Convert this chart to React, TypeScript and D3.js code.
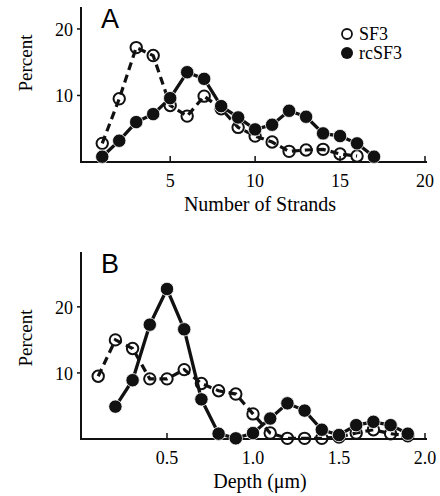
import { useEffect, useRef } from 'react';
import * as d3 from 'd3';

// Panel A: number of strands
const strands = [1, 2, 3, 4, 5, 6, 7, 8, 9, 10, 11, 12, 13, 14, 15, 16, 17];
const strandsSF3 = [2.8, 9.5, 17.2, 16.0, 8.5, 6.9, 9.9, 8.0, 5.2, 3.9, 3.0, 1.6, 1.8, 1.9, 1.2, 0.9, null];
const strandsRcSF3 = [0.8, 3.2, 6.0, 7.2, 9.6, 13.5, 12.5, 8.4, 6.7, 4.9, 5.6, 7.7, 6.8, 4.3, 3.9, 2.8, 0.8];

// Panel B: depth (um)
const depth = [0.1, 0.2, 0.3, 0.4, 0.5, 0.6, 0.7, 0.8, 0.9, 1.0, 1.1, 1.2, 1.3, 1.4, 1.5, 1.6, 1.7, 1.8, 1.9];
const depthSF3 = [9.5, 15.0, 13.7, 9.1, 9.1, 10.5, 8.4, 7.3, 6.8, 3.8, 0.9, 0.1, 0.1, 0.1, 0.3, 0.9, 1.4, 0.8, 0.5];
const depthRcSF3 = [null, 4.9, 8.9, 17.3, 22.7, 16.6, 6.0, 0.8, 0.1, 0.9, 3.1, 5.4, 4.3, 1.4, 0.6, 2.1, 2.6, 2.1, 0.8];

const ticksA = [5, 10, 15, 20];
const ticksB = [0.5, 1.0, 1.5, 2.0];
const yTicks = [10, 20];

const serif = '"Liberation Serif", "Times New Roman", serif';
const sans = '"Liberation Sans", Arial, sans-serif';

type Panel = {
  letter: string;
  xs: number[];
  sf3: (number | null)[];
  rc: (number | null)[];
  xDomain: [number, number];
  yMax: number;
  xTicks: number[];
  fmt: (d: number) => string;
  xLabel: string;
  top: number;
  bottom: number;
  labelY: number;
  legend: boolean;
};

const App = () => {
  const svgRef = useRef<SVGSVGElement>(null);

  useEffect(() => {
    const svg = d3.select(svgRef.current);
    svg.selectAll('*').remove();

    const panels: Panel[] = [
      {
        letter: 'A', xs: strands, sf3: strandsSF3, rc: strandsRcSF3,
        xDomain: [-0.25, 20], yMax: 23.3, xTicks: ticksA, fmt: (d) => String(d),
        xLabel: 'Number of Strands', top: 7, bottom: 162, labelY: 63, legend: true,
      },
      {
        letter: 'B', xs: depth, sf3: depthSF3, rc: depthRcSF3,
        xDomain: [0, 2.0], yMax: 28.3, xTicks: ticksB, fmt: d3.format('.1f'),
        xLabel: 'Depth (\u03bcm)', top: 252, bottom: 439, labelY: 338, legend: false,
      },
    ];

    panels.forEach((p) => {
      const { top, bottom } = p;
      const x = d3.scaleLinear().domain(p.xDomain).range([81, 425]);
      const y = d3.scaleLinear().domain([0, p.yMax]).range([bottom, top]);
      const g = svg.append('g');

      // axes
      g.append('path')
        .attr('d', `M81,${top}V${bottom}H427`)
        .attr('fill', 'none')
        .attr('stroke', '#111')
        .attr('stroke-width', 2);

      g.selectAll('.xt')
        .data(p.xTicks)
        .join('line')
        .attr('x1', (d) => x(d))
        .attr('x2', (d) => x(d))
        .attr('y1', bottom)
        .attr('y2', bottom - 6)
        .attr('stroke', '#111')
        .attr('stroke-width', 1.5);

      g.selectAll('.xl')
        .data(p.xTicks)
        .join('text')
        .attr('x', (d) => x(d))
        .attr('y', bottom + 25)
        .attr('text-anchor', 'middle')
        .style('font-family', serif)
        .style('font-size', '18px')
        .text((d) => p.fmt(d));

      g.selectAll('.yt')
        .data(yTicks)
        .join('line')
        .attr('x1', 77)
        .attr('x2', 81)
        .attr('y1', (d) => y(d))
        .attr('y2', (d) => y(d))
        .attr('stroke', '#111')
        .attr('stroke-width', 1.5);

      g.selectAll('.yl')
        .data(yTicks)
        .join('text')
        .attr('x', 73)
        .attr('y', (d) => y(d) + 7)
        .attr('text-anchor', 'end')
        .style('font-family', serif)
        .style('font-size', '18px')
        .text((d) => d);

      g.append('text')
        .attr('transform', `translate(32,${p.labelY}) rotate(-90)`)
        .attr('text-anchor', 'middle')
        .style('font-family', serif)
        .style('font-size', '19px')
        .text('Percent');

      g.append('text')
        .attr('x', 260)
        .attr('y', bottom + 49)
        .attr('text-anchor', 'middle')
        .style('font-family', serif)
        .style('font-size', '20px')
        .text(p.xLabel);

      g.append('text')
        .attr('x', 101)
        .attr('y', top + 21)
        .style('font-family', sans)
        .style('font-size', '27px')
        .text(p.letter);

      const line = d3
        .line<[number, number | null]>()
        .defined((d) => d[1] != null)
        .x((d) => x(d[0]))
        .y((d) => y(d[1] as number));

      const sfPts = p.xs.map((v, i) => [v, p.sf3[i]] as [number, number | null]);
      const rcPts = p.xs.map((v, i) => [v, p.rc[i]] as [number, number | null]);

      // SF3: dashed, open circles
      g.append('path')
        .datum(sfPts)
        .attr('d', line)
        .attr('fill', 'none')
        .attr('stroke', '#111')
        .attr('stroke-width', 3.2)
        .attr('stroke-dasharray', '8,5');

      g.selectAll('.sf')
        .data(sfPts.filter((d) => d[1] != null))
        .join('circle')
        .attr('cx', (d) => x(d[0]))
        .attr('cy', (d) => y(d[1] as number))
        .attr('r', 5.7)
        .attr('fill', 'none')
        .attr('stroke', '#111')
        .attr('stroke-width', 2);

      // rcSF3: solid, filled circles
      g.append('path')
        .datum(rcPts)
        .attr('d', line)
        .attr('fill', 'none')
        .attr('stroke', '#111')
        .attr('stroke-width', 3.3);

      g.selectAll('.rc')
        .data(rcPts.filter((d) => d[1] != null))
        .join('circle')
        .attr('cx', (d) => x(d[0]))
        .attr('cy', (d) => y(d[1] as number))
        .attr('r', 6.7)
        .attr('fill', '#111')
        .attr('stroke', '#fff')
        .attr('stroke-width', 0.8);

      if (p.legend) {
        const lg = g.append('g');
        lg.append('circle')
          .attr('cx', 347).attr('cy', 34).attr('r', 5)
          .attr('fill', 'none').attr('stroke', '#111').attr('stroke-width', 1.8);
        lg.append('circle')
          .attr('cx', 347).attr('cy', 53).attr('r', 6)
          .attr('fill', '#111');
        lg.append('text')
          .attr('x', 359).attr('y', 40)
          .style('font-family', serif).style('font-size', '18px')
          .text('SF3');
        lg.append('text')
          .attr('x', 359).attr('y', 59)
          .style('font-family', serif).style('font-size', '18px')
          .text('rcSF3');
      }
    });
  }, []);

  return (
    <svg
      ref={svgRef}
      width={440}
      height={496}
      style={{ position: 'absolute', left: 0, top: 0, background: '#fff' }}
    />
  );
};

export default App;
